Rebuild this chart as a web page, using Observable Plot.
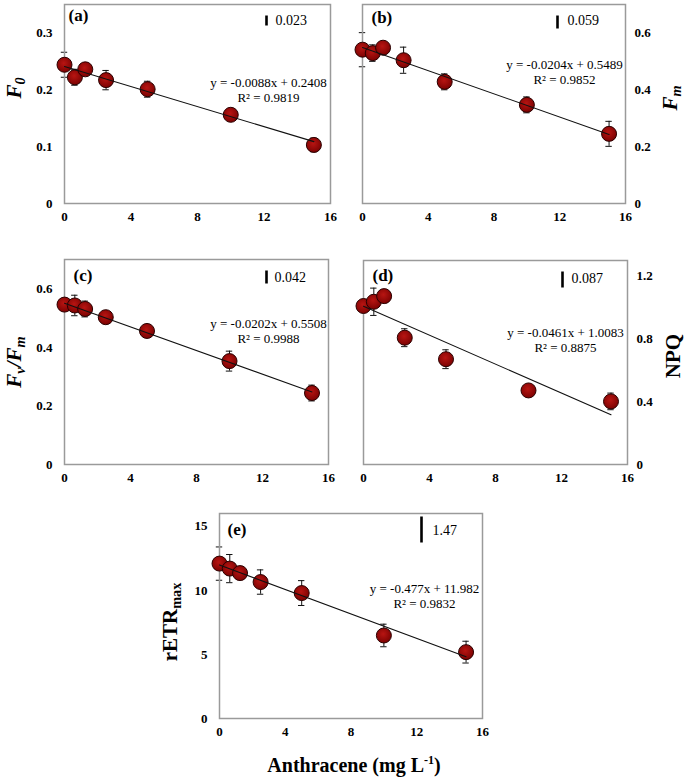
<!DOCTYPE html>
<html><head><meta charset="utf-8">
<script src="https://cdn.jsdelivr.net/npm/d3@7"></script>
<script src="https://cdn.jsdelivr.net/npm/@observablehq/plot@0.6"></script>
<style>
body{margin:0;background:#fff;}
#root{position:relative;width:685px;height:778px;font-family:'Liberation Serif','Times New Roman',serif;background:#fff;overflow:hidden;}
.panel{position:absolute;}
.panel svg, .panel svg text{font-family:'Liberation Serif','Times New Roman',serif !important;}
.ytitle{position:absolute;font-weight:bold;font-size:21px;white-space:nowrap;transform:translate(-50%,-50%) rotate(-90deg);line-height:1;color:#000;}
.ytitle i{font-style:italic;}
.ytitle sub{font-size:0.68em;vertical-align:-0.35em;line-height:0;}
.xtitle{position:absolute;font-weight:bold;font-size:20px;white-space:nowrap;transform:translate(-50%,-50%);color:#000;}
.xtitle sup{font-size:0.6em;vertical-align:0.6em;line-height:0;}
</style></head>
<body>
<svg width="0" height="0" style="position:absolute">
  <defs>
    <radialGradient id="dotGrad" cx="45%" cy="40%" r="60%">
      <stop offset="0" stop-color="#b81512"/>
      <stop offset="1" stop-color="#7c0202"/>
    </radialGradient>
  </defs>
</svg>
<div id="root"></div>
<script>
// ---- data ----
const conc = [0, 0.625, 1.25, 2.5, 5, 10, 15];
const xTicks = [0, 4, 8, 12, 16];

const f0 = [0.244, 0.222, 0.236, 0.217, 0.201, 0.156, 0.103];
const f0Err = [0.022, 0.014, 0.008, 0.017, 0.014, 0.007, 0.012];
const fm = [0.541, 0.529, 0.548, 0.504, 0.428, 0.347, 0.245];
const fmErr = [0.06, 0.029, 0.01, 0.046, 0.028, 0.028, 0.044];
const fvfm = [0.546, 0.543, 0.531, 0.503, 0.456, 0.353, 0.244];
const fvfmErr = [0.01, 0.035, 0.027, 0.01, 0.012, 0.034, 0.027];
const npq = [1.01, 1.037, 1.073, 0.808, 0.671, 0.472, 0.402];
const npqErr = [0.03, 0.087, 0.02, 0.057, 0.06, 0.03, 0.053];
const retr = [12.09, 11.70, 11.35, 10.65, 9.79, 6.48, 5.18];
const retrErr = [1.3, 1.1, 0.3, 0.95, 0.97, 0.88, 0.85];

const panelLabels = ["(a)", "(b)", "(c)", "(d)", "(e)"];
const slopes = [-0.0088, -0.0204, -0.0202, -0.0461, -0.477];
const intercepts = [0.2408, 0.5489, 0.5508, 1.0083, 11.982];
const eqTexts = ["y = -0.0088x + 0.2408", "y = -0.0204x + 0.5489", "y = -0.0202x + 0.5508", "y = -0.0461x + 1.0083", "y = -0.477x + 11.982"];
const r2Texts = ["R² = 0.9819", "R² = 0.9852", "R² = 0.9988", "R² = 0.8875", "R² = 0.9832"];
const lsdTexts = ["0.023", "0.059", "0.042", "0.087", "1.47"];
const yTickSets = [[0, 0.1, 0.2, 0.3], [0, 0.2, 0.4, 0.6], [0, 0.2, 0.4, 0.6], [0, 0.4, 0.8, 1.2], [0, 5, 10, 15]];
const yMaxes = [0.35, 0.7, 0.7, 1.3, 16];
const seriesVals = [f0, fm, fvfm, npq, retr];
const seriesErrs = [f0Err, fmErr, fvfmErr, npqErr, retrErr];

// ---- layout (positions / sizes) ----
const layout = [
  {left:0,   top:0,   w:340, h:225, ml:64, mr:10, mt:4,  mb:22, side:"left",
   lab:[4,11.5], eq:[-62,85], bar:[-64,16,5], lsd:[-55,16]},
  {left:340, top:0,   w:345, h:225, ml:22, mr:60, mt:4,  mb:22, side:"right",
   lab:[9,13.5], eq:[-61,67.5], bar:[-68,17.5,6.5], lsd:[-58,16]},
  {left:0,   top:240, w:340, h:246, ml:64, mr:12, mt:19, mb:22, side:"left",
   lab:[9,16], eq:[-60,71.5], bar:[-62,17.5,6.5], lsd:[-54,18]},
  {left:340, top:240, w:345, h:246, ml:23, mr:58, mt:20, mb:22, side:"right",
   lab:[9,15], eq:[-62,79.5], bar:[-65,19,8], lsd:[-56,18]},
  {left:180, top:490, w:320, h:250, ml:39, mr:18, mt:23, mb:22, side:"left",
   lab:[8,16], eq:[-58,82.5], bar:[-61,16,13], lsd:[-50,17]}
];

const vbar = {draw(ctx, size){ const h = Math.sqrt(size / Math.PI); ctx.moveTo(0, -h); ctx.lineTo(0, h); }};
const font = "Liberation Serif, Times New Roman, serif";
const fmt = d => String(d);

function makePanel(i){
  const L = layout[i];
  const data = conc.map((x, k) => ({x, y: seriesVals[i][k], e: seriesErrs[i][k]}));
  const fit = [conc[0], conc[conc.length - 1]].map(x => ({x, y: slopes[i] * x + intercepts[i]}));
  const pxPerX = (L.w - L.ml - L.mr) / 16;
  const capHalf = 3.2 / pxPerX;
  return Plot.plot({
    width: L.w, height: L.h,
    marginLeft: L.ml, marginRight: L.mr, marginTop: L.mt, marginBottom: L.mb,
    style: "font-family: 'Liberation Serif', 'Times New Roman', serif; font-size: 13px; font-weight: bold; color: #000; background: transparent; overflow: visible;",
    x: {domain: [0, 16]},
    y: {domain: [0, yMaxes[i]]},
    marks: [
      Plot.axisX({ticks: xTicks, tickFormat: fmt, tickSize: 0, tickPadding: 8, label: null, fontWeight: "bold", fontSize: 13, fontFamily: font}),
      Plot.axisY({anchor: L.side, ticks: yTickSets[i], tickFormat: fmt, tickSize: 0, tickPadding: L.side === "left" ? 12 : 9, label: null, fontWeight: "bold", fontSize: 13, fontFamily: font}),
      Plot.ruleX(data, {x: "x", y1: d => d.y - d.e, y2: d => d.y + d.e, stroke: "#111", strokeWidth: 1}),
      Plot.ruleY(data, {y: d => d.y + d.e, x1: d => d.x - capHalf, x2: d => d.x + capHalf, stroke: "#111", strokeWidth: 1}),
      Plot.ruleY(data, {y: d => d.y - d.e, x1: d => d.x - capHalf, x2: d => d.x + capHalf, stroke: "#111", strokeWidth: 1}),
      Plot.frame({stroke: "#9a9a9a", strokeWidth: 1.5}),
      Plot.dot(data, {x: "x", y: "y", r: 7.5, fill: "url(#dotGrad)", stroke: "#2a0000", strokeWidth: 1}),
      Plot.line(fit, {x: "x", y: "y", stroke: "#111", strokeWidth: 1.1}),
      Plot.text([panelLabels[i]], {frameAnchor: "top-left", dx: L.lab[0], dy: L.lab[1], textAnchor: "start", lineAnchor: "middle", fontSize: 17, fontWeight: "bold", fontFamily: font}),
      Plot.text([eqTexts[i] + "\n" + r2Texts[i]], {frameAnchor: "top-right", dx: L.eq[0], dy: L.eq[1], textAnchor: "middle", lineAnchor: "middle", lineHeight: 1.15, fontSize: 13, fontWeight: "normal", fontFamily: font}),
      Plot.dot([lsdTexts[i]], {frameAnchor: "top-right", dx: L.bar[0], dy: L.bar[1], r: L.bar[2], symbol: vbar, fill: "none", stroke: "#000", strokeWidth: 2.6}),
      Plot.text([lsdTexts[i]], {frameAnchor: "top-right", dx: L.lsd[0], dy: L.lsd[1], textAnchor: "start", lineAnchor: "middle", fontSize: 14, fontWeight: "normal", fontFamily: font})
    ]
  });
}

const root = document.getElementById("root");
layout.forEach((L, i) => {
  const div = document.createElement("div");
  div.className = "panel";
  div.style.left = L.left + "px";
  div.style.top = L.top + "px";
  div.appendChild(makePanel(i));
  root.appendChild(div);
});

const titles = [
  {html: "<i>F</i><sub><i>0</i></sub>", x: 14, y: 88},
  {html: "<i>F</i><sub><i>m</i></sub>", x: 670, y: 98},
  {html: "<i>F</i><sub><i>v</i></sub><i>/F</i><sub><i>m</i></sub>", x: 14, y: 362},
  {html: "NPQ", x: 673, y: 356},
  {html: "rETR<sub>max</sub>", x: 170, y: 622}
];
titles.forEach(t => {
  const d = document.createElement("div");
  d.className = "ytitle";
  d.innerHTML = t.html;
  d.style.left = t.x + "px";
  d.style.top = t.y + "px";
  root.appendChild(d);
});
const xt = document.createElement("div");
xt.className = "xtitle";
xt.innerHTML = "Anthracene (mg L<sup>-1</sup>)";
xt.style.left = "354px";
xt.style.top = "765px";
root.appendChild(xt);
</script>
</body></html>
